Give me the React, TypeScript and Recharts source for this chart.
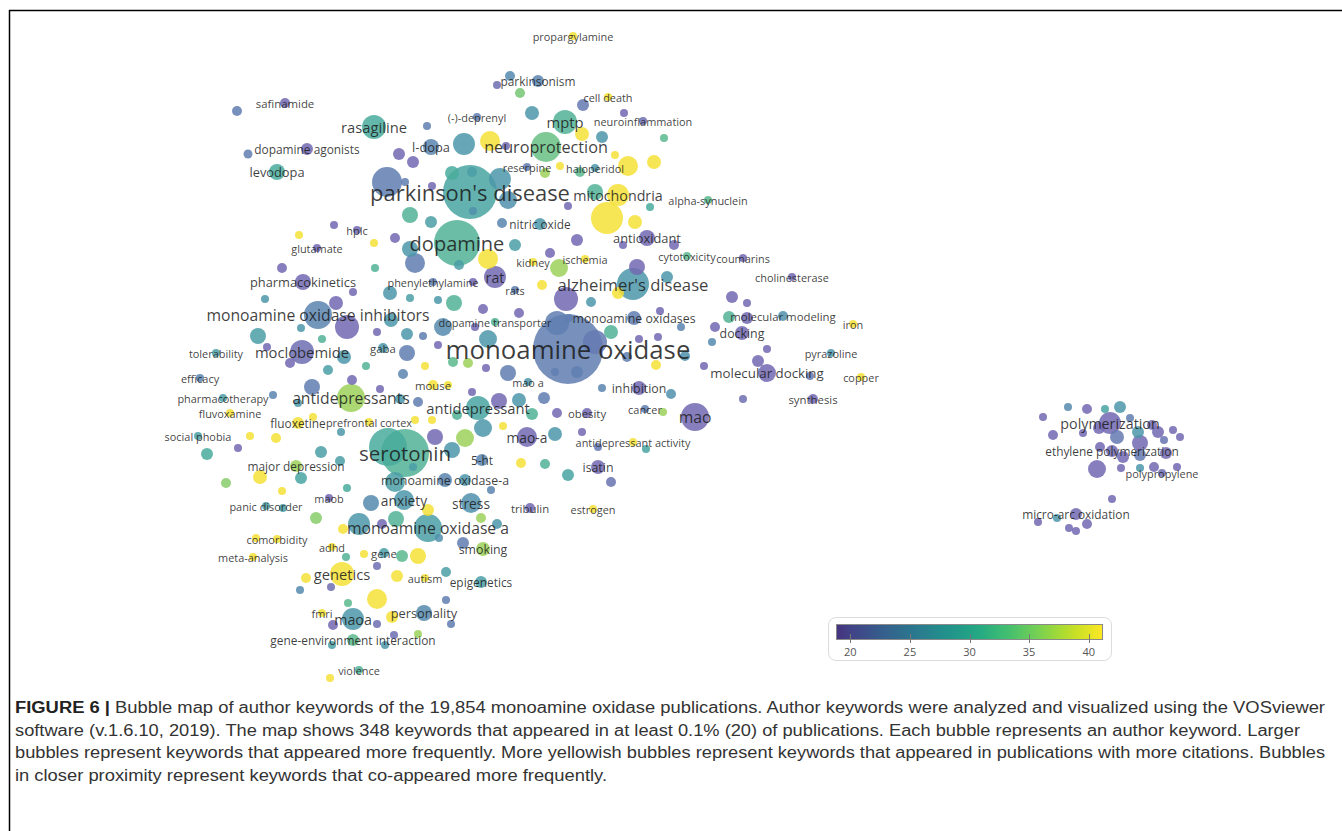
import React from "react";
import { ScatterChart, Scatter, XAxis, YAxis, ZAxis } from "recharts";

// [keyword, map x, map y, occurrences, avg. citations]
type Kw = [string, number, number, number, number];

const parkinsonCluster: Kw[] = [
  ["propargylamine", 573, 36, 20, 41],
  ["", 237, 111, 31, 24],
  ["safinamide", 285, 103, 31, 20],
  ["dopamine agonists", 307, 149, 45, 20],
  ["", 248, 154, 25, 24],
  ["levodopa", 277, 172, 80, 31],
  ["rasagiline", 374, 127, 180, 31],
  ["", 427, 126, 20, 24],
  ["(-)-deprenyl", 477, 117, 20, 24],
  ["l-dopa", 431, 147, 80, 25],
  ["", 399, 154, 45, 20],
  ["", 413, 162, 45, 20],
  ["", 464, 144, 151, 28],
  ["", 490, 141, 125, 41],
  ["", 506, 146, 20, 20],
  ["neuroprotection", 546, 147, 281, 34],
  ["mptp", 565, 122, 180, 32],
  ["", 532, 113, 61, 28],
  ["parkinsonism", 538, 81, 45, 25],
  ["", 510, 76, 31, 26],
  ["", 497, 85, 20, 21],
  ["", 520, 93, 31, 35],
  ["cell death", 608, 97, 20, 41],
  ["", 583, 105, 45, 23],
  ["", 624, 113, 20, 20],
  ["neuroinflammation", 643, 121, 20, 21],
  ["", 582, 134, 61, 41],
  ["", 602, 137, 45, 28],
  ["", 664, 138, 20, 33],
  ["", 615, 155, 20, 41],
  ["", 628, 166, 125, 41],
  ["", 654, 162, 61, 41],
  ["reserpine", 527, 167, 20, 24],
  ["", 545, 173, 31, 37],
  ["", 560, 166, 20, 41],
  ["haloperidol", 595, 168, 20, 28],
  ["", 580, 172, 31, 33],
  ["mitochondria", 618, 195, 151, 41],
  ["", 595, 192, 80, 32],
  ["", 568, 206, 20, 20],
  ["", 607, 218, 320, 41],
  ["", 635, 222, 61, 41],
  ["", 650, 207, 20, 31],
  ["alpha-synuclein", 708, 200, 20, 33],
  ["", 502, 223, 31, 25],
  ["nitric oxide", 540, 224, 45, 28],
  ["antioxidant", 647, 238, 80, 20],
  ["", 623, 245, 20, 20],
  ["", 674, 245, 31, 20],
  ["", 577, 240, 45, 20],
  ["parkinson's disease", 470, 192, 911, 30],
  ["", 387, 182, 281, 24],
  ["", 500, 179, 151, 28],
  ["", 508, 200, 101, 27],
  ["", 452, 173, 61, 31],
  ["", 472, 172, 31, 29],
  ["", 473, 211, 20, 27],
  ["", 405, 182, 20, 24],
  ["", 432, 186, 20, 20],
  ["", 410, 215, 80, 32],
  ["", 431, 222, 45, 29],
  ["", 334, 225, 20, 20],
];

const dopamineCluster: Kw[] = [
  ["hplc", 357, 230, 20, 20],
  ["", 299, 235, 20, 41],
  ["glutamate", 317, 248, 20, 20],
  ["", 374, 243, 20, 41],
  ["", 395, 238, 31, 20],
  ["dopamine", 457, 243, 661, 32],
  ["", 410, 249, 80, 28],
  ["", 488, 259, 125, 41],
  ["", 515, 245, 45, 29],
  ["", 415, 263, 125, 24],
  ["", 459, 265, 31, 29],
  ["", 550, 253, 31, 20],
  ["kidney", 533, 262, 20, 41],
  ["", 559, 268, 101, 37],
  ["ischemia", 585, 259, 20, 41],
  ["", 542, 285, 31, 41],
  ["rat", 495, 277, 151, 20],
  ["phenylethylamine", 433, 282, 20, 24],
  ["", 473, 282, 20, 20],
  ["", 353, 292, 20, 20],
  ["rats", 515, 290, 20, 24],
  ["pharmacokinetics", 303, 282, 80, 20],
  ["", 282, 268, 31, 20],
  ["", 375, 268, 20, 32],
  ["", 265, 299, 20, 28],
  ["", 390, 293, 61, 28],
  ["", 410, 298, 20, 29],
  ["", 438, 300, 20, 28],
  ["", 454, 303, 80, 32],
  ["", 483, 309, 31, 20],
  ["", 519, 313, 31, 20],
  ["", 566, 299, 180, 20],
  ["alzheimer's disease", 633, 284, 320, 28],
  ["", 637, 267, 80, 20],
  ["", 667, 277, 45, 28],
  ["", 591, 302, 31, 28],
  ["", 618, 293, 45, 41],
  ["cytotoxicity", 687, 256, 20, 33],
  ["coumarins", 743, 258, 20, 20],
  ["cholinesterase", 792, 277, 20, 20],
  ["", 732, 297, 45, 20],
  ["", 747, 303, 20, 20],
  ["", 729, 317, 45, 32],
  ["molecular modeling", 783, 316, 31, 27],
  ["", 747, 318, 45, 20],
  ["iron", 853, 324, 20, 41],
  ["docking", 742, 333, 61, 20],
  ["", 715, 327, 31, 20],
  ["", 712, 342, 20, 26],
  ["", 767, 349, 20, 20],
  ["", 758, 361, 45, 20],
  ["pyrazoline", 831, 353, 20, 28],
  ["", 704, 366, 20, 20],
  ["molecular docking", 767, 373, 101, 20],
  ["", 810, 376, 20, 23],
  ["copper", 861, 377, 20, 41],
  ["synthesis", 813, 399, 31, 20],
  ["", 743, 399, 20, 21],
  ["mao", 695, 417, 245, 20],
  ["inhibition", 639, 388, 61, 20],
  ["", 602, 388, 20, 25],
  ["", 671, 394, 31, 27],
  ["cancer", 645, 409, 20, 24],
  ["", 663, 412, 20, 37],
  ["obesity", 587, 413, 31, 20],
  ["", 557, 413, 31, 20],
  ["antidepressant activity", 633, 442, 20, 41],
  ["", 646, 449, 20, 30],
  ["", 582, 432, 20, 20],
  ["", 598, 447, 20, 23],
  ["mao-a", 527, 437, 125, 20],
  ["", 555, 434, 61, 28],
  ["isatin", 598, 467, 61, 20],
  ["", 611, 482, 31, 22],
  ["", 521, 463, 31, 41],
  ["", 545, 464, 31, 32],
  ["", 568, 475, 45, 30],
  ["monoamine oxidase", 568, 349, 1531, 24],
  ["", 557, 323, 180, 24],
  ["", 595, 342, 180, 23],
  ["", 577, 372, 45, 24],
  ["", 555, 372, 20, 24],
  ["monoamine oxidases", 634, 318, 61, 24],
  ["", 611, 332, 61, 32],
  ["", 660, 311, 20, 20],
  ["", 681, 327, 20, 25],
  ["", 658, 337, 20, 20],
  ["", 639, 339, 20, 20],
  ["", 685, 356, 31, 27],
  ["", 627, 357, 31, 24],
  ["", 656, 365, 31, 41],
  ["", 569, 318, 20, 24],
  ["mao a", 528, 382, 20, 28],
];

const depressionCluster: Kw[] = [
  ["monoamine oxidase inhibitors", 318, 315, 245, 25],
  ["", 347, 327, 180, 20],
  ["", 336, 303, 61, 20],
  ["", 301, 328, 20, 28],
  ["", 258, 336, 80, 29],
  ["", 322, 339, 20, 32],
  ["", 377, 332, 20, 20],
  ["", 407, 334, 45, 28],
  ["", 423, 336, 20, 24],
  ["", 391, 320, 61, 28],
  ["", 443, 327, 101, 26],
  ["dopamine transporter", 495, 322, 20, 32],
  ["", 475, 327, 20, 20],
  ["", 488, 339, 101, 28],
  ["moclobemide", 302, 352, 180, 21],
  ["", 290, 363, 31, 20],
  ["", 267, 347, 20, 20],
  ["", 344, 357, 61, 28],
  ["", 328, 370, 31, 29],
  ["tolerability", 216, 353, 20, 29],
  ["gaba", 383, 348, 31, 28],
  ["", 366, 366, 20, 32],
  ["", 407, 353, 80, 24],
  ["", 425, 366, 20, 41],
  ["", 438, 345, 20, 20],
  ["", 453, 362, 31, 33],
  ["", 468, 363, 31, 37],
  ["", 486, 368, 20, 20],
  ["", 508, 373, 80, 24],
  ["", 403, 374, 31, 25],
  ["efficacy", 200, 378, 20, 25],
  ["pharmacotherapy", 223, 398, 20, 29],
  ["", 273, 395, 20, 25],
  ["", 298, 403, 20, 28],
  ["fluvoxamine", 230, 413, 20, 41],
  ["antidepressants", 351, 398, 245, 37],
  ["", 312, 387, 80, 24],
  ["", 352, 380, 31, 20],
  ["", 380, 389, 20, 20],
  ["", 400, 399, 31, 28],
  ["", 418, 402, 31, 24],
  ["", 313, 417, 20, 41],
  ["fluoxetine", 298, 423, 45, 41],
  ["prefrontal cortex", 369, 422, 20, 41],
  ["", 341, 432, 20, 28],
  ["mouse", 433, 385, 31, 41],
  ["", 448, 385, 20, 41],
  ["", 472, 392, 20, 20],
  ["antidepressant", 478, 408, 180, 30],
  ["", 483, 428, 101, 28],
  ["", 465, 438, 101, 37],
  ["", 457, 415, 31, 32],
  ["", 532, 414, 45, 32],
  ["", 519, 400, 61, 28],
  ["", 499, 401, 80, 20],
  ["", 544, 398, 45, 24],
  ["", 503, 426, 20, 41],
  ["", 415, 420, 20, 41],
  ["", 432, 420, 20, 41],
  ["serotonin", 405, 453, 720, 32],
  ["", 388, 447, 451, 31],
  ["", 413, 467, 20, 29],
  ["", 452, 450, 80, 28],
  ["", 435, 437, 80, 20],
  ["5-ht", 482, 460, 45, 25],
  ["monoamine oxidase-a", 445, 480, 61, 25],
  ["", 395, 482, 125, 29],
  ["", 465, 480, 45, 28],
  ["", 491, 490, 20, 25],
  ["stress", 471, 503, 125, 27],
  ["tribulin", 530, 508, 31, 20],
  ["estrogen", 593, 509, 20, 41],
  ["", 481, 518, 31, 37],
  ["", 497, 524, 31, 28],
  ["smoking", 483, 549, 61, 37],
  ["", 463, 543, 45, 24],
  ["monoamine oxidase a", 428, 528, 245, 29],
  ["", 359, 524, 151, 28],
  ["", 396, 519, 80, 32],
  ["", 382, 524, 31, 20],
  ["", 439, 538, 20, 27],
  ["", 343, 529, 31, 41],
  ["", 428, 510, 45, 41],
  ["anxiety", 404, 500, 125, 28],
  ["", 371, 503, 80, 26],
  ["", 321, 452, 45, 29],
  ["", 340, 461, 31, 29],
  ["", 207, 454, 45, 31],
  ["", 250, 436, 20, 41],
  ["", 276, 438, 31, 41],
  ["", 238, 448, 20, 20],
  ["social phobia", 198, 436, 20, 29],
  ["major depression", 296, 466, 45, 37],
  ["", 260, 477, 61, 41],
  ["", 301, 478, 45, 30],
  ["", 226, 483, 31, 36],
  ["", 282, 491, 20, 41],
  ["", 347, 488, 20, 31],
  ["maob", 329, 498, 20, 20],
  ["panic disorder", 266, 506, 20, 29],
  ["", 283, 508, 20, 29],
  ["", 316, 518, 45, 36],
  ["comorbidity", 277, 539, 20, 41],
  ["", 256, 538, 20, 41],
  ["adhd", 332, 547, 20, 41],
  ["meta-analysis", 253, 557, 20, 41],
  ["", 346, 557, 20, 32],
  ["gene", 384, 553, 31, 29],
  ["", 364, 554, 20, 41],
  ["", 402, 556, 45, 33],
  ["", 418, 556, 80, 41],
  ["", 377, 566, 20, 21],
  ["genetics", 342, 574, 180, 41],
  ["", 306, 578, 31, 41],
  ["", 300, 590, 20, 26],
  ["", 331, 587, 20, 21],
  ["", 397, 576, 45, 41],
  ["autism", 425, 578, 20, 41],
  ["", 446, 572, 31, 29],
  ["epigenetics", 481, 582, 45, 29],
  ["", 377, 599, 125, 41],
  ["", 348, 603, 20, 33],
  ["", 446, 600, 20, 24],
  ["personality", 424, 613, 80, 26],
  ["", 392, 617, 45, 41],
  ["", 451, 624, 20, 24],
  ["fmri", 322, 613, 20, 41],
  ["maoa", 353, 619, 151, 28],
  ["", 333, 625, 31, 20],
  ["", 377, 624, 20, 21],
  ["gene-environment interaction", 353, 640, 45, 33],
  ["", 394, 635, 20, 21],
  ["", 418, 634, 20, 37],
  ["", 332, 645, 20, 29],
  ["", 385, 645, 20, 28],
  ["violence", 359, 670, 20, 32],
  ["", 330, 678, 20, 41],
];

const polymerCluster: Kw[] = [
  ["", 1068, 407, 20, 26],
  ["", 1087, 409, 31, 20],
  ["", 1105, 409, 20, 30],
  ["", 1120, 407, 45, 28],
  ["", 1043, 417, 20, 20],
  ["polymerization", 1110, 423, 151, 20],
  ["", 1099, 428, 45, 20],
  ["", 1130, 418, 20, 24],
  ["", 1138, 432, 45, 28],
  ["", 1152, 425, 31, 20],
  ["", 1158, 432, 45, 20],
  ["", 1173, 430, 20, 20],
  ["", 1180, 437, 20, 20],
  ["", 1164, 440, 20, 22],
  ["", 1117, 437, 61, 23],
  ["", 1053, 435, 31, 20],
  ["", 1083, 433, 20, 20],
  ["", 1140, 443, 80, 20],
  ["ethylene polymerization", 1112, 451, 45, 20],
  ["", 1100, 447, 31, 20],
  ["", 1123, 457, 45, 20],
  ["", 1140, 455, 45, 23],
  ["", 1166, 453, 45, 20],
  ["", 1097, 469, 101, 20],
  ["", 1121, 468, 20, 20],
  ["", 1140, 468, 20, 28],
  ["", 1154, 467, 31, 20],
  ["", 1177, 467, 20, 20],
  ["polypropylene", 1162, 473, 20, 21],
  ["", 1112, 499, 20, 20],
  ["micro-arc oxidation", 1076, 514, 45, 20],
  ["", 1057, 518, 20, 28],
  ["", 1038, 522, 20, 20],
  ["", 1087, 524, 31, 20],
  ["", 1069, 528, 20, 20],
  ["", 1076, 531, 20, 20],
];

const colorTicks = [20, 25, 30, 35, 40];
const colorMin = 18.8;
const colorMax = 41.2;

const captionLines = [
  "Bubble map of author keywords of the 19,854 monoamine oxidase publications. Author keywords were analyzed and visualized using the VOSviewer",
  "software (v.1.6.10, 2019). The map shows 348 keywords that appeared in at least 0.1% (20) of publications. Each bubble represents an author keyword. Larger",
  "bubbles represent keywords that appeared more frequently. More yellowish bubbles represent keywords that appeared in publications with more citations. Bubbles",
  "in closer proximity represent keywords that co-appeared more frequently.",
];
const captionWidths = [1310, 1285, 1310, 592];

const VIRIDIS = ["#440154", "#482475", "#414487", "#355f8d", "#2a788e", "#21918c", "#22a884", "#44bf70", "#7ad151", "#bddf26", "#fde725"];

function hex(h: string) {
  return [1, 3, 5].map(i => parseInt(h.slice(i, i + 2), 16));
}

function viridisRgb(t: number) {
  const tt = Math.max(0, Math.min(1, t)) * 10;
  const i = Math.min(9, Math.floor(tt));
  const f = tt - i;
  const a = hex(VIRIDIS[i]);
  const b = hex(VIRIDIS[i + 1]);
  return a.map((v, k) => v + (b[k] - v) * f);
}

const tOf = (v: number) => 0.15 + 0.85 * (v - colorMin) / (colorMax - colorMin);

function citColor(v: number) {
  const c = viridisRgb(tOf(v)).map(Math.round);
  return `rgb(${c[0]},${c[1]},${c[2]})`;
}

// bubbles in the map are a paler, slightly violet-tinted version of the scale
function bubbleColor(v: number) {
  const t = tOf(v);
  const mix = 0.35 * (1 - t) + 0.08;
  const tint = [200, 170, 255];
  const c = viridisRgb(t).map((x, k) => Math.round(x + (tint[k] - x) * mix));
  return `rgb(${c[0]},${c[1]},${c[2]})`;
}

const toPoints = (rows: Kw[]) =>
  rows.map(([name, x, y, occ, cit]) => ({ name, x, y, occ, cit }));

const allPoints = [
  ...toPoints(parkinsonCluster),
  ...toPoints(dopamineCluster),
  ...toPoints(depressionCluster),
  ...toPoints(polymerCluster),
];
const bubbles = [...allPoints].sort((a, b) => b.occ - a.occ);
const labelled = allPoints.filter(p => p.name !== "").sort((a, b) => a.occ - b.occ);

const radiusOf = (p: any) => (p.width ? p.width / 2 : Math.sqrt((p.size || 0) / Math.PI));

const Bubble = (p: any) => (
  <circle cx={p.cx} cy={p.cy} r={radiusOf(p)} fill={bubbleColor(p.payload.cit)} fillOpacity={0.85} />
);

const KeywordLabel = (p: any) => (
  <text
    x={p.cx}
    y={p.cy}
    textAnchor="middle"
    dominantBaseline="central"
    fontFamily="'Open Sans', sans-serif"
    fontSize={9 + 0.48 * radiusOf(p)}
    fill="#1a1a1a"
    fillOpacity={0.85}
  >
    {p.payload.name}
  </text>
);

const barLeft = 836;
const barWidth = 267;
const tickX = (v: number) => barLeft + ((v - colorMin) / (colorMax - colorMin)) * barWidth;

export default function App() {
  const gradient = Array.from({ length: 21 }, (_, i) => {
    const v = colorMin + (i / 20) * (colorMax - colorMin);
    return `${citColor(v)} ${i * 5}%`;
  }).join(", ");

  return (
    <div style={{ position: "relative", width: 1342, height: 831, background: "#fff", overflow: "hidden" }}>
      <style>{`body{margin:0}`}</style>
      <svg width={1342} height={831} style={{ position: "absolute", left: 0, top: 0 }}>
        <line x1={9} y1={10.5} x2={1342} y2={10.5} stroke="#000" strokeWidth={1.5} />
        <line x1={9.5} y1={10} x2={9.5} y2={831} stroke="#000" strokeWidth={1.5} />
      </svg>
      <div style={{ position: "absolute", left: 0, top: 0 }}>
        <ScatterChart width={1342} height={690} margin={{ top: 0, right: 0, bottom: 0, left: 0 }}>
          <XAxis type="number" dataKey="x" domain={[0, 1342]} hide />
          <YAxis type="number" dataKey="y" domain={[0, 690]} reversed hide />
          <ZAxis type="number" dataKey="occ" domain={[0, 2000]} range={[0, Math.PI * 1600]} />
          <Scatter data={bubbles} shape={Bubble} isAnimationActive={false} legendType="none" />
          <Scatter data={labelled} shape={KeywordLabel} isAnimationActive={false} legendType="none" />
        </ScatterChart>
      </div>

      {/* colour legend */}
      <div style={{ position: "absolute", left: 828, top: 617, width: 284, height: 44, border: "1px solid #dcdcdc", borderRadius: 8, boxSizing: "border-box" }} />
      <div style={{ position: "absolute", left: barLeft, top: 624, width: barWidth, height: 16, background: `linear-gradient(to right, ${gradient})`, border: "1px solid #8a8a8a", boxSizing: "border-box" }} />
      {colorTicks.map(v => (
        <React.Fragment key={v}>
          <div style={{ position: "absolute", left: tickX(v), top: 634, width: 1, height: 9, background: "#777" }} />
          <div style={{ position: "absolute", left: tickX(v) - 15, top: 644, width: 30, textAlign: "center", fontFamily: "'Open Sans', sans-serif", fontSize: 11, color: "#555" }}>{v}</div>
        </React.Fragment>
      ))}

      {/* caption */}
      <svg width={1342} height={141} style={{ position: "absolute", left: 0, top: 690 }}>
        {captionLines.map((line, i) => (
          <text
            key={i}
            x={15}
            y={23 + i * 22.7}
            textLength={captionWidths[i]}
            lengthAdjust="spacingAndGlyphs"
            fontFamily="'Liberation Sans Narrow', 'Liberation Sans', Arial, sans-serif"
            fontSize={16}
            fill="#333"
          >
            {i === 0 && <tspan fontWeight="bold" fill="#222">FIGURE 6 | </tspan>}
            {line}
          </text>
        ))}
      </svg>
    </div>
  );
}
